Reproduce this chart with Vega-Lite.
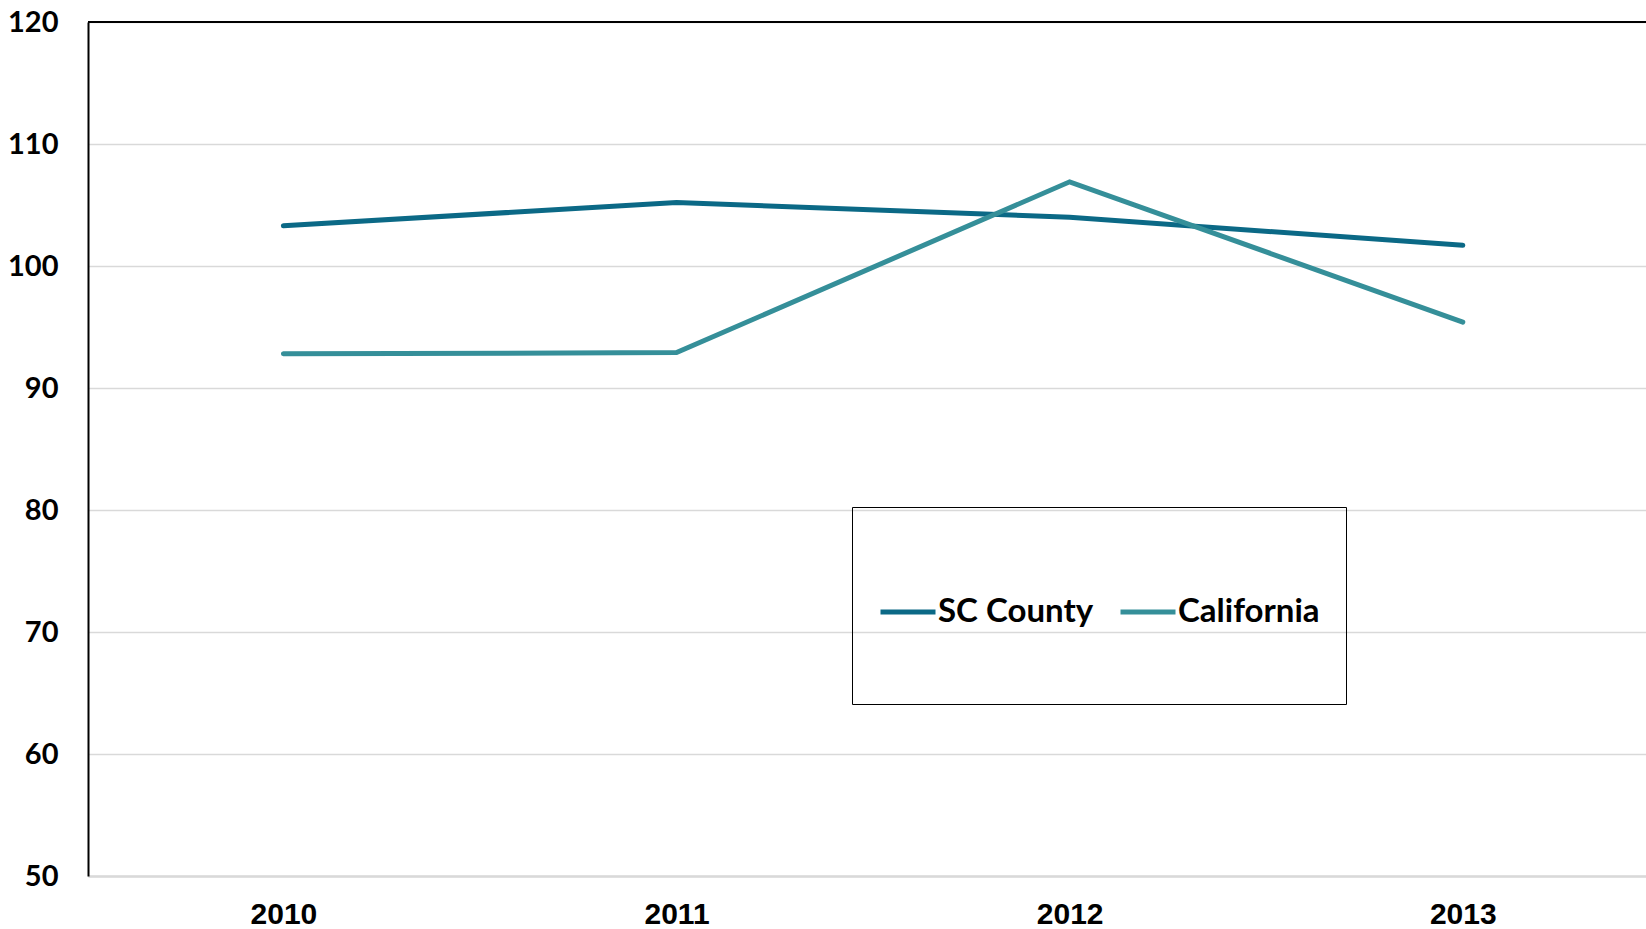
{
  "$schema": "https://vega.github.io/schema/vega-lite/v6.json",
  "width": 1558,
  "height": 854,
  "autosize": {"type": "none"},
  "padding": {"left": 88, "top": 22, "right": 0, "bottom": 53},
  "background": "white",
  "config": {"view": {"stroke": null}, "style": {"guide-label": {"lineHeight": 49}}},
  "data": {
    "values": [
      {"year": 2010, "series": "SC County", "value": 103.3},
      {"year": 2011, "series": "SC County", "value": 105.2},
      {"year": 2012, "series": "SC County", "value": 104.0},
      {"year": 2013, "series": "SC County", "value": 101.7},
      {"year": 2010, "series": "California", "value": 92.8},
      {"year": 2011, "series": "California", "value": 92.9},
      {"year": 2012, "series": "California", "value": 106.9},
      {"year": 2013, "series": "California", "value": 95.4}
    ]
  },
  "layer": [
    {
      "mark": {"type": "line", "strokeWidth": 5, "strokeCap": "round"},
      "encoding": {
        "x": {"field": "year", "type": "quantitative", "scale": {"domain": [2009.503, 2013.466], "nice": false, "zero": false},
          "axis": {"orient": "bottom", "values": [2010, 2011, 2012, 2013], "format": "d", "title": null, "ticks": false, "grid": false,
            "domainColor": "#d9d9d9", "domainWidth": 2.5, "labelFont": "Liberation Sans", "labelFontWeight": "bold", "labelFontSize": 30,
            "labelColor": "black", "labelPadding": 23, "labelFlush": false}},
        "y": {"field": "value", "type": "quantitative", "scale": {"domain": [50, 120], "nice": false, "zero": false},
          "axis": {"values": [50, 60, 70, 80, 90, 100, 110, 120], "title": null, "ticks": false, "grid": true, "gridColor": "#d9d9d9", "gridWidth": 1.5,
            "domainColor": "black", "domainWidth": 2, "labelFont": "Lato", "labelFontWeight": "bold", "labelFontSize": 29,
            "labelColor": "black", "labelPadding": 30, "labelFlush": false}},
        "color": {"field": "series", "type": "nominal",
          "scale": {"domain": ["SC County", "California"], "range": ["#0b6986", "#358f99"]},
          "legend": {"orient": "none", "legendX": 764, "legendY": 485, "direction": "horizontal", "title": null,
            "symbolType": "M-1,1.782H1", "symbolSize": 3025, "symbolStrokeWidth": 5, "labelOffset": 0, "columnPadding": 16,
            "labelFont": "Lato", "labelFontWeight": "bold", "labelFontSize": 33, "labelColor": "black", "labelLimit": 400,
            "labelExpr": "['', datum.label, '']",
            "padding": 26, "strokeColor": "black"}}
      }
    },
    {
      "mark": {"type": "rule", "color": "black", "strokeWidth": 2},
      "encoding": {"y": {"datum": 120}}
    }
  ]
}
